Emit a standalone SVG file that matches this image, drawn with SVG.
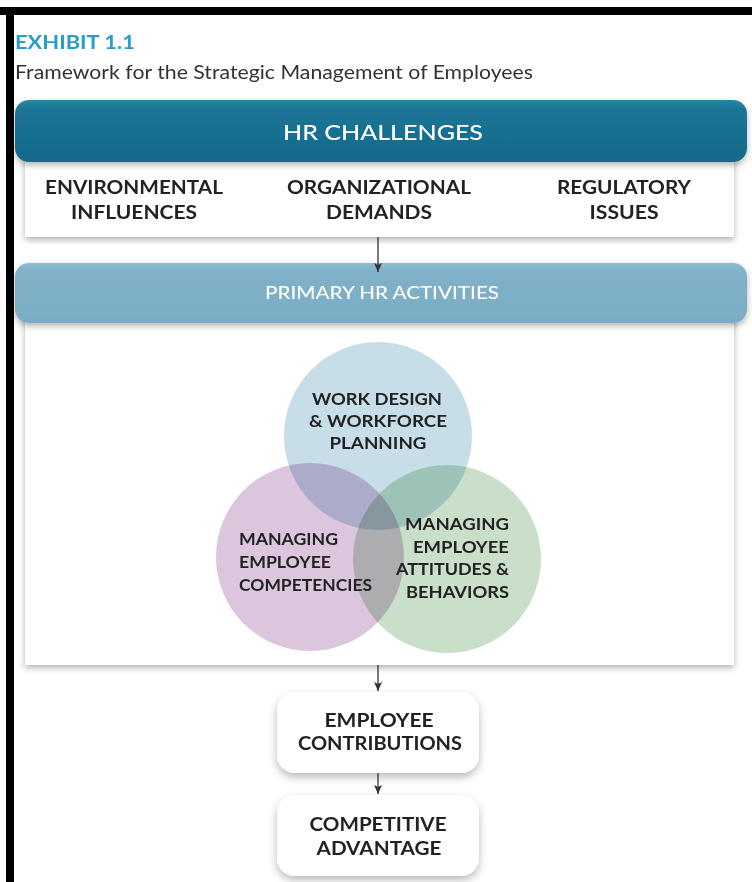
<svg xmlns="http://www.w3.org/2000/svg" width="752" height="882" viewBox="0 0 752 882">
<style>
  .lbl { font-family: "Lato", "Liberation Sans", sans-serif; font-weight: 700; fill: #222; }
  .hdr { font-family: "Lato", "Liberation Sans", sans-serif; fill: #fff; font-weight: 500; }
  .circ { mix-blend-mode: multiply; }
  .conn { stroke: #333; stroke-width: 1.3; fill: none; }
</style>
<defs>
  <filter id="sh" x="-10%" y="-20%" width="120%" height="150%">
    <feDropShadow dx="0" dy="3" stdDeviation="3" flood-color="#000" flood-opacity="0.3"/>
  </filter>
  <filter id="sh2" x="-10%" y="-20%" width="120%" height="150%">
    <feDropShadow dx="0" dy="4" stdDeviation="4" flood-color="#000" flood-opacity="0.28"/>
  </filter>
  <linearGradient id="gTeal" x1="0" y1="0" x2="0" y2="1">
    <stop offset="0" stop-color="#2a87a6"/>
    <stop offset="0.15" stop-color="#1b7595"/>
    <stop offset="1" stop-color="#16698a"/>
  </linearGradient>
  <linearGradient id="gLight" x1="0" y1="0" x2="0" y2="1">
    <stop offset="0" stop-color="#8fbcd1"/>
    <stop offset="0.15" stop-color="#80b1c8"/>
    <stop offset="1" stop-color="#7aadc5"/>
  </linearGradient>
  <marker id="arr" markerWidth="10" markerHeight="10" refX="9" refY="4" orient="auto" markerUnits="userSpaceOnUse">
    <path d="M0,0 L9,4 L0,8 L2,4 z" fill="#333"/>
  </marker>
</defs>
<rect x="0" y="0" width="752" height="882" fill="#fff"/>
<!-- frame -->
<rect x="0" y="7" width="752" height="8" fill="#000"/>
<rect x="6" y="7" width="8" height="875" fill="#000"/>

<g id="header">
  <text x="15" y="49" font-family="Lato, 'Liberation Sans', sans-serif" font-weight="700" font-size="18.5" fill="#2a9dc6" textLength="120" lengthAdjust="spacingAndGlyphs">EXHIBIT 1.1</text>
  <text x="15" y="79" font-family="Lato, 'Liberation Sans', sans-serif" font-size="19.5" fill="#333" textLength="518" lengthAdjust="spacingAndGlyphs">Framework for the Strategic Management of Employees</text>
</g>

<g id="hr-challenges">
  <rect x="25" y="150" width="709" height="87" fill="#fff" filter="url(#sh)"/>
  <rect x="15" y="100" width="732" height="62" rx="14" fill="url(#gTeal)" filter="url(#sh)"/>
  <text class="hdr" x="383" y="140" font-size="22" text-anchor="middle" textLength="200" lengthAdjust="spacingAndGlyphs">HR CHALLENGES</text>
  <g id="environmental-influences">
    <text class="lbl" x="134" y="194" font-size="19" text-anchor="middle" textLength="178" lengthAdjust="spacingAndGlyphs">ENVIRONMENTAL</text>
    <text class="lbl" x="134" y="219" font-size="19" text-anchor="middle" textLength="126" lengthAdjust="spacingAndGlyphs">INFLUENCES</text>
  </g>
  <g id="organizational-demands">
    <text class="lbl" x="379" y="194" font-size="19" text-anchor="middle" textLength="184" lengthAdjust="spacingAndGlyphs">ORGANIZATIONAL</text>
    <text class="lbl" x="379" y="219" font-size="19" text-anchor="middle" textLength="106" lengthAdjust="spacingAndGlyphs">DEMANDS</text>
  </g>
  <g id="regulatory-issues">
    <text class="lbl" x="624" y="194" font-size="19" text-anchor="middle" textLength="134" lengthAdjust="spacingAndGlyphs">REGULATORY</text>
    <text class="lbl" x="624" y="219" font-size="19" text-anchor="middle" textLength="69" lengthAdjust="spacingAndGlyphs">ISSUES</text>
  </g>
</g>

<g id="primary-hr-activities">
  <rect x="25" y="310" width="709" height="355" fill="#fff" filter="url(#sh)"/>
  <rect x="15" y="263" width="732" height="60" rx="14" fill="url(#gLight)" filter="url(#sh)"/>
  <text class="hdr" x="382" y="299" font-size="18" text-anchor="middle" textLength="234" lengthAdjust="spacingAndGlyphs">PRIMARY HR ACTIVITIES</text>
  <g style="isolation:isolate">
    <circle id="circle-work-design" class="circ" cx="378" cy="436" r="94" fill="#c7dee8"/>
    <circle id="circle-competencies" class="circ" cx="310" cy="557" r="94" fill="#dcc6de"/>
    <circle id="circle-attitudes" class="circ" cx="447" cy="559" r="94" fill="#c9dfca"/>
  </g>
  <g id="work-design-label">
    <text class="lbl" x="377" y="405" font-size="17" text-anchor="middle" textLength="130" lengthAdjust="spacingAndGlyphs">WORK DESIGN</text>
    <text class="lbl" x="378" y="427" font-size="17" text-anchor="middle" textLength="138" lengthAdjust="spacingAndGlyphs">&amp; WORKFORCE</text>
    <text class="lbl" x="378" y="449" font-size="17" text-anchor="middle" textLength="97" lengthAdjust="spacingAndGlyphs">PLANNING</text>
  </g>
  <g id="competencies-label">
    <text class="lbl" x="239" y="545" font-size="17" textLength="99" lengthAdjust="spacingAndGlyphs">MANAGING</text>
    <text class="lbl" x="239" y="568" font-size="17" textLength="92" lengthAdjust="spacingAndGlyphs">EMPLOYEE</text>
    <text class="lbl" x="239" y="591" font-size="17" textLength="133" lengthAdjust="spacingAndGlyphs">COMPETENCIES</text>
  </g>
  <g id="attitudes-label">
    <text class="lbl" x="509" y="530" font-size="17" text-anchor="end" textLength="104" lengthAdjust="spacingAndGlyphs">MANAGING</text>
    <text class="lbl" x="509" y="553" font-size="17" text-anchor="end" textLength="96" lengthAdjust="spacingAndGlyphs">EMPLOYEE</text>
    <text class="lbl" x="509" y="575" font-size="17" text-anchor="end" textLength="113" lengthAdjust="spacingAndGlyphs">ATTITUDES &amp;</text>
    <text class="lbl" x="509" y="598" font-size="17" text-anchor="end" textLength="103" lengthAdjust="spacingAndGlyphs">BEHAVIORS</text>
  </g>
</g>

<g id="employee-contributions">
  <rect x="277" y="692" width="202" height="81" rx="18" fill="#fff" filter="url(#sh2)"/>
  <text class="lbl" x="379" y="727" font-size="19.5" text-anchor="middle" textLength="109" lengthAdjust="spacingAndGlyphs">EMPLOYEE</text>
  <text class="lbl" x="380" y="750" font-size="19.5" text-anchor="middle" textLength="164" lengthAdjust="spacingAndGlyphs">CONTRIBUTIONS</text>
</g>

<g id="competitive-advantage">
  <rect x="277" y="795" width="202" height="81" rx="18" fill="#fff" filter="url(#sh2)"/>
  <text class="lbl" x="378" y="831" font-size="19.5" text-anchor="middle" textLength="137" lengthAdjust="spacingAndGlyphs">COMPETITIVE</text>
  <text class="lbl" x="379" y="855" font-size="19.5" text-anchor="middle" textLength="125" lengthAdjust="spacingAndGlyphs">ADVANTAGE</text>
</g>

<g id="connectors">
  <line class="conn" x1="378" y1="237" x2="378" y2="272" marker-end="url(#arr)"/>
  <line class="conn" x1="378" y1="665" x2="378" y2="691" marker-end="url(#arr)"/>
  <line class="conn" x1="378" y1="773" x2="378" y2="794" marker-end="url(#arr)"/>
</g>
</svg>
